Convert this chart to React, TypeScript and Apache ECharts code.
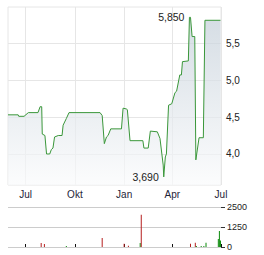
import React, { useEffect, useRef } from "react";
import * as echarts from "echarts";

const priceDates = [
  "2024-05-29", "2024-06-17", "2024-06-18", "2024-06-28", "2024-07-06", "2024-07-24",
  "2024-07-28", "2024-07-31", "2024-08-01", "2024-08-06", "2024-08-09", "2024-08-15",
  "2024-08-18", "2024-08-21", "2024-08-24", "2024-08-31", "2024-09-07", "2024-09-09",
  "2024-09-15", "2024-09-20", "2024-11-17", "2024-11-21", "2024-11-25", "2024-11-29",
  "2024-12-02", "2024-12-07", "2024-12-27", "2024-12-30", "2025-01-05", "2025-01-07",
  "2025-01-12", "2025-02-05", "2025-02-07", "2025-02-15", "2025-02-19", "2025-03-04",
  "2025-03-09", "2025-03-15", "2025-03-16", "2025-03-19", "2025-03-21", "2025-03-25",
  "2025-03-31", "2025-04-06", "2025-04-09", "2025-04-15", "2025-04-18", "2025-04-20",
  "2025-05-01", "2025-05-03", "2025-05-05", "2025-05-08", "2025-05-13", "2025-05-15",
  "2025-05-21", "2025-05-29", "2025-06-01", "2025-06-30",
];
const priceValues = [
  4.53, 4.53, 4.51, 4.51, 4.56, 4.56,
  4.64, 4.64, 4.27, 4.25, 4.0, 4.0,
  4.06, 4.08, 4.23, 4.25, 4.25, 4.39,
  4.48, 4.56, 4.56, 4.52, 4.14, 4.23,
  4.25, 4.34, 4.34, 4.62, 4.61, 4.6,
  4.18, 4.18, 4.08, 4.08, 4.31, 4.3,
  4.21, 3.85, 3.69, 3.96, 4.0, 4.66,
  4.68, 4.83, 4.85, 5.07, 5.07, 5.25,
  5.26, 5.85, 5.85, 5.59, 5.59, 3.92,
  4.22, 4.22, 5.81, 5.81,
];

const volDates = [
  "2024-07-30", "2024-08-05", "2024-09-15", "2024-11-21", "2025-01-01", "2025-01-09",
  "2025-01-31", "2025-02-02", "2025-05-05", "2025-05-14", "2025-05-16", "2025-05-25",
  "2025-05-30", "2025-06-03", "2025-06-26", "2025-06-28", "2025-06-30",
];
const volValues = [250, 190, 60, 560, 200, 80, 250, 2020, 200, 270, 60, 60, 60, 270, 500, 1000, 400];
const volUp = [false, false, true, false, false, false, true, false, false, false, true, true, true, true, true, true, true];

const tickDates = ["2024-07-01", "2024-10-01", "2025-01-01", "2025-04-01", "2025-07-01"];
const monthNames = ["Jan", "Feb", "Mär", "Apr", "Mai", "Jun", "Jul", "Aug", "Sep", "Okt", "Nov", "Dez"];
const priceTicks = [4.0, 4.5, 5.0, 5.5];

const axisMinDate = "2024-05-29";
const axisMaxDate = "2025-07-01";

function ts(s: string): number {
  const [y, m, d] = s.split("-").map(Number);
  return new Date(y, m - 1, d).getTime();
}

const FONT = "Liberation Sans, Arial, sans-serif";

export default function App() {
  const ref = useRef<HTMLDivElement>(null);

  useEffect(() => {
    if (!ref.current) return;
    const chart = echarts.init(ref.current, undefined, { renderer: "svg" });
    const tickTs = tickDates.map(ts);
    const xMin = ts(axisMinDate);
    const xMax = ts(axisMaxDate);

    const priceData = priceDates.map((d, i) => [ts(d), priceValues[i]]);
    const volData = volDates.map((d, i) => [ts(d), volValues[i]]);

    chart.setOption({
      animation: false,
      grid: [
        { left: 8, top: 7, width: 213, height: 178, show: true, borderColor: "#e6e6e6", borderWidth: 1 },
        { left: 8, top: 207, width: 213, height: 40 },
      ],
      xAxis: [
        {
          type: "value",
          gridIndex: 0,
          min: xMin,
          max: xMax,
          axisLine: { show: false },
          axisTick: { show: false, customValues: tickTs },
          splitLine: { show: true, lineStyle: { color: "#e6e6e6", width: 1 } },
          axisLabel: {
            customValues: tickTs,
            formatter: (v: number) => monthNames[new Date(v).getMonth()],
            fontSize: 10,
            fontFamily: FONT,
            color: "#1e2438",
            margin: 4,
            hideOverlap: false,
          },
        },
        {
          type: "value",
          gridIndex: 1,
          position: "top",
          min: xMin,
          max: xMax,
          axisLine: { show: false },
          axisTick: { show: true, length: 3, customValues: tickTs, lineStyle: { color: "#111", width: 1 } },
          splitLine: { show: false },
          axisLabel: { show: false },
        },
      ],
      yAxis: [
        {
          type: "value",
          gridIndex: 0,
          position: "right",
          min: 3.58,
          max: 5.99,
          axisLine: { show: false },
          axisTick: { show: false, customValues: priceTicks },
          splitLine: { show: true, lineStyle: { color: "#e6e6e6", width: 1 } },
          axisLabel: {
            customValues: priceTicks,
            formatter: (v: number) => v.toFixed(1).replace(".", ","),
            fontSize: 10,
            fontFamily: FONT,
            color: "#222",
            margin: 5,
          },
        },
        {
          type: "value",
          gridIndex: 1,
          position: "right",
          min: 0,
          max: 2500,
          interval: 1250,
          axisLine: { show: false },
          axisTick: { show: true, length: 4, lineStyle: { color: "#333", width: 1 } },
          splitLine: { show: true, lineStyle: { color: "#cccccc", width: 1 } },
          axisLabel: {
            formatter: (v: number) => String(v),
            fontSize: 9,
            fontFamily: FONT,
            color: "#222",
            margin: 6,
          },
        },
      ],
      series: [
        {
          type: "line",
          xAxisIndex: 0,
          yAxisIndex: 0,
          data: priceData,
          showSymbol: false,
          lineStyle: { color: "#3a973a", width: 1 },
          areaStyle: {
            color: new echarts.graphic.LinearGradient(0, 0, 0, 1, [
              { offset: 0, color: "#c4cfd9" },
              { offset: 1, color: "#fafbfc" },
            ]),
          },
          markPoint: {
            symbol: "circle",
            symbolSize: 0,
            data: [{ type: "max" }, { type: "min" }],
            label: {
              show: true,
              position: "left",
              distance: 5,
              formatter: (p: any) => Number(p.value).toFixed(3).replace(".", ","),
              fontSize: 10.5,
              fontFamily: FONT,
              color: "#222",
            },
          },
        },
        {
          type: "bar",
          xAxisIndex: 1,
          yAxisIndex: 1,
          data: volData,
          barWidth: 1,
          itemStyle: {
            color: (p: any) => (volUp[p.dataIndex] ? "#0b8a0b" : "#b51f1f"),
          },
        },
      ],
    });
    return () => chart.dispose();
  }, []);

  return (
    <div
      ref={ref}
      style={{ position: "fixed", left: 0, top: 0, width: 264, height: 255, background: "#fff" }}
    />
  );
}
